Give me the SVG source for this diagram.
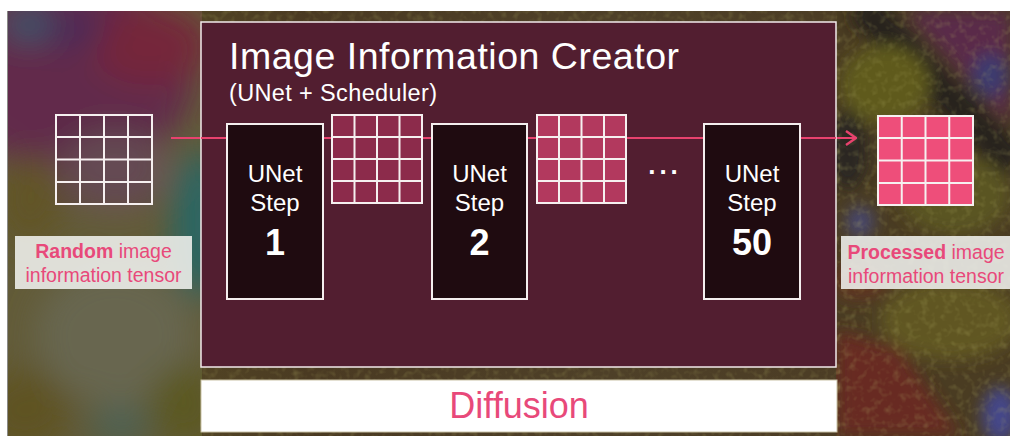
<svg xmlns="http://www.w3.org/2000/svg" width="1010" height="436" viewBox="0 0 1010 436">
  <defs>
    <style>
      .title { font-family: "Liberation Sans", Arial, sans-serif; fill: #ffffff; }
      .step { font-family: "Liberation Sans", Arial, sans-serif; fill: #ffffff; font-size: 24px; text-anchor: middle; }
      .num { font-family: "Liberation Sans", Arial, sans-serif; fill: #ffffff; font-size: 36px; font-weight: bold; text-anchor: middle; }
      .label { font-family: "Liberation Sans", Arial, sans-serif; fill: #e8497a; font-size: 19.5px; text-anchor: middle; }
      .label .b { font-weight: bold; }
      .stepbox { fill: #1f0b10; stroke: #f4eeee; stroke-width: 2; }
      .grid line, .grid rect { stroke: #f6f0f0; stroke-width: 2; }
      .tag { fill: #f0f1ee; fill-opacity: 0.88; }
      .flow { stroke: #e8426e; stroke-width: 2; fill: none; }
    </style>
    <filter id="soft" x="-20%" y="-20%" width="140%" height="140%">
      <feGaussianBlur stdDeviation="16"/>
    </filter>
    <filter id="softer" x="-20%" y="-20%" width="140%" height="140%">
      <feGaussianBlur stdDeviation="8"/>
    </filter>
    <filter id="grain" x="0" y="0" width="100%" height="100%">
      <feTurbulence type="fractalNoise" baseFrequency="0.14" numOctaves="2" seed="7"/>
      <feColorMatrix type="matrix" values="0 0 0 0 0.42  0 0 0 0 0.40  0 0 0 0 0.12  0 0 0 2.0 -0.95"/>
    </filter>
    <clipPath id="leftArea"><rect x="8" y="11" width="194" height="425"/></clipPath>
    <clipPath id="rightArea"><rect x="836" y="11" width="174" height="425"/></clipPath>
    <marker id="chev" viewBox="0 0 12 16" refX="11" refY="8" markerWidth="12" markerHeight="16" markerUnits="userSpaceOnUse" orient="auto">
      <path d="M1,1 L11,8 L1,15" fill="none" stroke="#e8426e" stroke-width="2.4"/>
    </marker>
    <linearGradient id="midBand" x1="0" y1="0" x2="1" y2="0">
      <stop offset="0" stop-color="#5e5428"/>
      <stop offset="0.3" stop-color="#4a3a22"/>
      <stop offset="0.6" stop-color="#4e4028"/>
      <stop offset="1" stop-color="#4a3a22"/>
    </linearGradient>
  </defs>

  <!-- page margin -->
  <rect x="0" y="0" width="1010" height="436" fill="#ffffff"/>

  <!-- painted backdrop -->
  <g id="backdrop">
    <rect x="8" y="11" width="1002" height="425" fill="url(#midBand)"/>
    <line x1="7.5" y1="11" x2="7.5" y2="436" stroke="#8a8a86" stroke-width="1"/>

    <!-- left: soft washes -->
    <g clip-path="url(#leftArea)">
      <rect x="8" y="11" width="194" height="425" fill="#625b38"/>
      <g filter="url(#soft)">
        <ellipse cx="70" cy="75" rx="125" ry="100" fill="#62294c"/>
        <ellipse cx="150" cy="45" rx="60" ry="40" fill="#74283a"/>
        <ellipse cx="30" cy="25" rx="25" ry="16" fill="#2b5a70"/>
        <ellipse cx="75" cy="30" rx="30" ry="18" fill="#4a2c58"/>
        <ellipse cx="30" cy="200" rx="35" ry="45" fill="#625528"/>
        <ellipse cx="115" cy="170" rx="55" ry="40" fill="#6c5458"/>
        <ellipse cx="200" cy="225" rx="28" ry="75" fill="#2a6664"/>
        <ellipse cx="115" cy="335" rx="80" ry="70" fill="#676650"/>
        <ellipse cx="25" cy="410" rx="45" ry="40" fill="#5e5220"/>
        <ellipse cx="185" cy="405" rx="35" ry="40" fill="#5c5822"/>
        <ellipse cx="120" cy="425" rx="30" ry="20" fill="#4e6254"/>
      </g>
    </g>

    <!-- right: textured paint -->
    <g clip-path="url(#rightArea)">
      <rect x="836" y="11" width="174" height="425" fill="#4a3c22"/>
      <g filter="url(#softer)">
        <polygon points="905,11 1010,11 1010,125" fill="#5a2a48"/>
        <ellipse cx="990" cy="75" rx="18" ry="22" fill="#3e3a70"/>
        <line x1="860" y1="5" x2="1015" y2="165" stroke="#25221c" stroke-width="34"/>
        <ellipse cx="885" cy="85" rx="45" ry="40" fill="#5e5a1e"/>
        <ellipse cx="955" cy="195" rx="55" ry="40" fill="#5a5420"/>
        <ellipse cx="848" cy="150" rx="20" ry="40" fill="#2c2620"/>
        <ellipse cx="860" cy="222" rx="14" ry="16" fill="#474670"/>
        <ellipse cx="950" cy="320" rx="70" ry="40" fill="#605620"/>
        <polygon points="836,330 900,350 960,436 836,436" fill="#682a22"/>
        <ellipse cx="860" cy="280" rx="30" ry="20" fill="#5e3422"/>
        <ellipse cx="1000" cy="415" rx="18" ry="28" fill="#44468a"/>
      </g>
      <rect x="836" y="11" width="174" height="425" filter="url(#grain)" opacity="0.3"/>
    </g>

    <!-- texture along the strips around the main panel -->
    <rect x="200" y="11" width="640" height="425" filter="url(#grain)" opacity="0.3"/>
  </g>

  <!-- connectors (drawn beneath the nodes) -->
  <g id="connectors">
    <line class="flow" x1="171" y1="138" x2="856" y2="138" marker-end="url(#chev)"/>
  </g>

  <!-- main panel -->
  <g id="image-information-creator">
    <rect x="201" y="22" width="635" height="345" fill="#521e30" stroke="#f2eaea" stroke-width="1.5"/>
    <text class="title" x="229" y="69" font-size="37.5" textLength="450">Image Information Creator</text>
    <text class="title" x="229" y="101" font-size="23.5" textLength="208">(UNet + Scheduler)</text>
  </g>

  <!-- flow line continued over the panel -->
  <g id="connectors-over-panel">
    <line class="flow" x1="201" y1="138" x2="836" y2="138"/>
  </g>

  <!-- latent grids -->
  <g id="grid-random" class="grid">
    <rect x="56" y="115" width="96" height="89" fill="#4a1e3e" fill-opacity="0.18"/>
    <line x1="80" y1="115" x2="80" y2="204"/><line x1="104" y1="115" x2="104" y2="204"/><line x1="128" y1="115" x2="128" y2="204"/>
    <line x1="56" y1="137" x2="152" y2="137"/><line x1="56" y1="159.5" x2="152" y2="159.5"/><line x1="56" y1="182" x2="152" y2="182"/>
  </g>

  <g id="grid-step1" class="grid">
    <rect x="332" y="115" width="90" height="88" fill="#8c2b4b"/>
    <line x1="354.5" y1="115" x2="354.5" y2="203"/><line x1="377" y1="115" x2="377" y2="203"/><line x1="399.5" y1="115" x2="399.5" y2="203"/>
    <line x1="332" y1="137" x2="422" y2="137"/><line x1="332" y1="159" x2="422" y2="159"/><line x1="332" y1="181" x2="422" y2="181"/>
  </g>

  <g id="grid-step2" class="grid">
    <rect x="537" y="115" width="89" height="88" fill="#b2395e"/>
    <line x1="559" y1="115" x2="559" y2="203"/><line x1="581.5" y1="115" x2="581.5" y2="203"/><line x1="604" y1="115" x2="604" y2="203"/>
    <line x1="537" y1="137" x2="626" y2="137"/><line x1="537" y1="159" x2="626" y2="159"/><line x1="537" y1="181" x2="626" y2="181"/>
  </g>

  <g id="grid-processed" class="grid">
    <rect x="878" y="116" width="95" height="89" fill="#ee4e7a"/>
    <line x1="901.75" y1="116" x2="901.75" y2="205"/><line x1="925.5" y1="116" x2="925.5" y2="205"/><line x1="949.25" y1="116" x2="949.25" y2="205"/>
    <line x1="878" y1="138" x2="973" y2="138"/><line x1="878" y1="160.5" x2="973" y2="160.5"/><line x1="878" y1="183" x2="973" y2="183"/>
  </g>

  <!-- UNet steps -->
  <g id="unet-step-1">
    <rect class="stepbox" x="227" y="124" width="96" height="175"/>
    <text class="step" x="275" y="182">UNet</text>
    <text class="step" x="275" y="211">Step</text>
    <text class="num" x="275" y="255">1</text>
  </g>

  <g id="unet-step-2">
    <rect class="stepbox" x="432" y="124" width="95" height="175"/>
    <text class="step" x="479.5" y="182">UNet</text>
    <text class="step" x="479.5" y="211">Step</text>
    <text class="num" x="479.5" y="255">2</text>
  </g>

  <g id="ellipsis">
    <text x="665" y="174" font-family="Liberation Sans, Arial, sans-serif" font-size="26" font-weight="bold" fill="#ffffff" text-anchor="middle" letter-spacing="4">...</text>
  </g>

  <g id="unet-step-50">
    <rect class="stepbox" x="704" y="124" width="96" height="175"/>
    <text class="step" x="752" y="182">UNet</text>
    <text class="step" x="752" y="211">Step</text>
    <text class="num" x="752" y="255">50</text>
  </g>

  <!-- captions -->
  <g id="label-random">
    <rect class="tag" x="15" y="236" width="177" height="53"/>
    <text class="label" x="103.5" y="258"><tspan class="b">Random</tspan> image</text>
    <text class="label" x="103.5" y="282">information tensor</text>
  </g>

  <g id="label-processed">
    <rect class="tag" x="841" y="236" width="169" height="53"/>
    <text class="label" x="926" y="259"><tspan class="b">Processed</tspan> image</text>
    <text class="label" x="926" y="283">information tensor</text>
  </g>

  <g id="diffusion">
    <rect x="201" y="380" width="636" height="52" fill="#ffffff" stroke="#c9c2a6" stroke-width="1"/>
    <text x="519" y="418" font-family="Liberation Sans, Arial, sans-serif" font-size="36" fill="#e8497a" text-anchor="middle">Diffusion</text>
  </g>
</svg>
